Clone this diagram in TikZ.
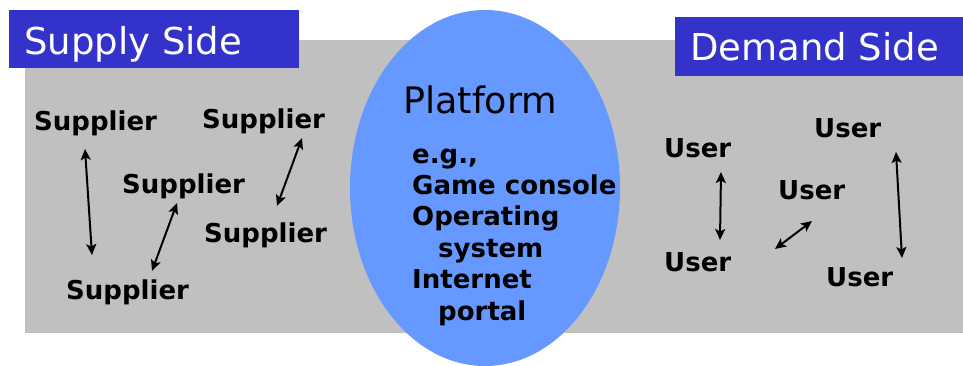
\documentclass[tikz,border=0pt]{standalone}
\usepackage{fontspec}
\setmainfont{DejaVu Sans}
\usetikzlibrary{arrows.meta,shapes.geometric}
\definecolor{labelblue}{RGB}{51,51,204}
\definecolor{platblue}{RGB}{102,153,255}
\definecolor{bggray}{RGB}{192,192,192}
\tikzset{
  item/.style={anchor=base west, inner sep=0pt, font=\fontsize{26}{31}\selectfont\bfseries},
  title/.style={anchor=base west, inner sep=0pt, text=white, font=\fontsize{37}{44}\selectfont},
  link/.style={line width=2pt, {Stealth[length=11pt,width=10pt,inset=2.5pt]}-{Stealth[length=11pt,width=10pt,inset=2.5pt]}}
}
\begin{document}
\begin{tikzpicture}[x=1pt,y=-1pt]
\useasboundingbox (0,0) rectangle (963,365);
% background
\fill[bggray] (25,40) rectangle (963,333);
\fill[labelblue] (9,10) rectangle (299,68);
\fill[labelblue] (675,17) rectangle (963,76);
\node[title] (supply) at (24,54) {Supply Side};
\node[title] (demand) at (690,60) {Demand Side};
% platform
\node[ellipse, fill=platblue, minimum width=270pt, minimum height=356pt, inner sep=0pt, draw=none] (platform) at (485,188) {};
\node[anchor=base west, inner sep=0pt, font=\fontsize{36.5}{44}\selectfont] (ptitle) at (403,113) {Platform};
\node[item] (p1) at (412,163) {e.g.,};
\node[item] (p2) at (412,194) {Game console};
\node[item] (p3) at (412,225) {Operating};
\node[item] (p4) at (438,257) {system};
\node[item] (p5) at (412,288) {Internet};
\node[item] (p6) at (438,320) {portal};
% suppliers
\node[item] (s1) at (34,130) {Supplier};
\node[item] (s2) at (202,128) {Supplier};
\node[item] (s3) at (122,193) {Supplier};
\node[item] (s4) at (204,242) {Supplier};
\node[item] (s5) at (66,299) {Supplier};
% users
\node[item] (u1) at (664,157) {User};
\node[item] (u2) at (814,137) {User};
\node[item] (u3) at (778,199) {User};
\node[item] (u4) at (664,271) {User};
\node[item] (u5) at (826,286) {User};
% arrow end points
\coordinate (a1t) at (85,149);  \coordinate (a1b) at (92,255);
\coordinate (a2t) at (302,138); \coordinate (a2b) at (277,206);
\coordinate (a3t) at (177,203); \coordinate (a3b) at (152,271);
\coordinate (b1t) at (721,172); \coordinate (b1b) at (720,240);
\coordinate (b2t) at (812,221); \coordinate (b2b) at (775,249);
\coordinate (b3t) at (896,152); \coordinate (b3b) at (902,258);
\draw[link] (a1t) -- (a1b);
\draw[link] (a2t) -- (a2b);
\draw[link] (a3t) -- (a3b);
\draw[link] (b1t) -- (b1b);
\draw[link] (b2t) -- (b2b);
\draw[link] (b3t) -- (b3b);
\end{tikzpicture}
\end{document}
